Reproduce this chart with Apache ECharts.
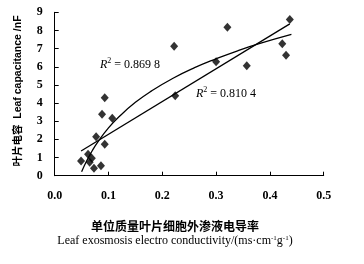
<!DOCTYPE html>
<html>
<head>
<meta charset="utf-8">
<script src="https://cdn.jsdelivr.net/npm/echarts@6/dist/echarts.min.js"></script>
<style>
    html, body { margin: 0; padding: 0; background: #fff; }
    #chart { width: 364px; height: 264px; }
</style>
</head>
<body>
<div id="chart"></div>
<script>
// 散点数据 (电导率, 电容)
var conductivity = [0.049, 0.062, 0.065, 0.069, 0.073, 0.077, 0.086, 0.088, 0.093, 0.093,
                    0.107, 0.222, 0.224, 0.300, 0.321, 0.357, 0.423, 0.430, 0.437];
var capacitance  = [0.81, 1.18, 0.74, 0.96, 0.41, 2.15, 0.55, 3.38, 1.73, 4.30,
                    3.16, 7.13, 4.41, 6.28, 8.17, 6.06, 7.27, 6.63, 8.60];
// 线性趋势线 (R2 = 0.8104)
var linearX = [0.049, 0.437];
var linearY = [1.36, 8.36];
// 对数趋势线 (R2 = 0.8698)
var logX = [0.05, 0.06, 0.07, 0.08, 0.10, 0.12, 0.15, 0.18, 0.22, 0.26, 0.30, 0.34, 0.38, 0.44];
var logY = [0.22, 0.85, 1.39, 1.85, 2.63, 3.26, 4.04, 4.67, 5.37, 5.95, 6.44, 6.88, 7.27, 7.78];
var xTicks = ['0.0', '0.1', '0.2', '0.3', '0.4', '0.5'];
var yTicks = ['0', '1', '2', '3', '4', '5', '6', '7', '8', '9'];

function pairs(xs, ys) {
    return xs.map(function (x, i) { return [x, ys[i]]; });
}

var serif = 'Liberation Serif';
var chart = echarts.init(document.getElementById('chart'));

var r2Rich = {
    r: { fontFamily: serif, fontStyle: 'italic', fontSize: 12, fill: '#000' },
    s: { fontFamily: serif, fontSize: 8, fill: '#000', verticalAlign: 'top', padding: [0, 0, 8, 0] },
    t: { fontFamily: serif, fontSize: 12, fill: '#000' }
};

chart.setOption({
    animation: false,
    grid: { left: 54.7, right: 40.3, top: 12.3, bottom: 88.3 },
    xAxis: {
        type: 'value', min: 0, max: 0.5, interval: 0.1,
        axisLine: { lineStyle: { color: '#000', width: 1 } },
        axisTick: { inside: true, length: 4, lineStyle: { color: '#000' } },
        axisLabel: {
            margin: 14, color: '#000', fontFamily: serif, fontSize: 12, fontWeight: 'bold',
            formatter: function (v) { return xTicks[Math.round(v * 10)]; }
        },
        splitLine: { show: false }
    },
    yAxis: {
        type: 'value', min: 0, max: 9, interval: 1,
        axisLine: { show: true, lineStyle: { color: '#000', width: 1 } },
        axisTick: { show: true, inside: true, length: 4, lineStyle: { color: '#000' } },
        axisLabel: {
            margin: 12, color: '#000', fontFamily: serif, fontSize: 12, fontWeight: 'bold',
            formatter: function (v) { return yTicks[Math.round(v)]; }
        },
        splitLine: { show: false }
    },
    series: [
        {
            type: 'scatter', data: pairs(conductivity, capacitance),
            symbol: 'diamond', symbolSize: [8, 9],
            itemStyle: { color: '#000' }
        },
        {
            type: 'line', data: pairs(linearX, linearY),
            showSymbol: false, lineStyle: { color: '#000', width: 1.3 }
        },
        {
            type: 'line', data: pairs(logX, logY), smooth: true,
            showSymbol: false, lineStyle: { color: '#000', width: 1.3 }
        }
    ],
    graphic: [
        {
            type: 'text', left: 100, top: 57,
            style: { text: '{r|R}{s|2}{t| = 0.869 8}', rich: r2Rich }
        },
        {
            type: 'text', left: 196, top: 86,
            style: { text: '{r|R}{s|2}{t| = 0.810 4}', rich: r2Rich }
        },
        {
            type: 'text', x: 18, y: 91, rotation: Math.PI / 2,
            style: {
                text: '叶片电容  Leaf capacitance /nF', fill: '#000',
                font: 'bold 10.5px "Liberation Sans", "Noto Sans CJK SC"',
                align: 'center', verticalAlign: 'middle'
            }
        },
        {
            type: 'text', x: 175, y: 226,
            style: {
                text: '单位质量叶片细胞外渗液电导率', fill: '#000',
                font: 'bold 12px "Noto Sans CJK SC"',
                align: 'center', verticalAlign: 'middle'
            }
        },
        {
            type: 'text', x: 175, y: 241,
            style: {
                text: 'Leaf exosmosis electro conductivity/(ms·cm{s|-1}g{s|-1})', fill: '#000',
                font: '12px "Liberation Serif"',
                align: 'center', verticalAlign: 'middle',
                rich: { s: { font: '7px "Liberation Serif"', verticalAlign: 'top', padding: [0, 0, 6, 0], fill: '#000' } }
            }
        }
    ]
});
</script>
</body>
</html>
